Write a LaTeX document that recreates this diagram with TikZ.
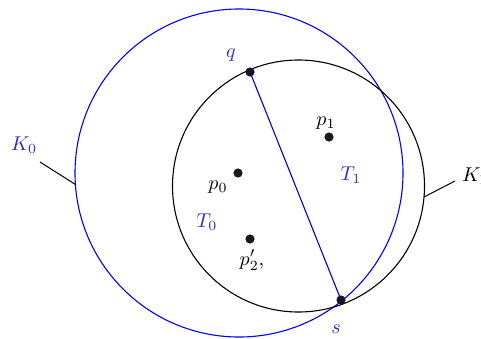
\documentclass[tikz,border=0pt]{standalone}
\usetikzlibrary{calc}
\definecolor{kblue}{RGB}{0,0,245}
\definecolor{lblue}{RGB}{45,45,190}
\begin{document}
\begin{tikzpicture}[x=0.5pt,y=-0.5pt,
  dot/.style={circle,fill=black!90,inner sep=0pt,minimum size=4.6pt},
  blab/.style={text=lblue,inner sep=1pt},
  klab/.style={inner sep=1pt}]
\useasboundingbox (0,0) rectangle (481,338);
\coordinate (c0) at (239,173);
\coordinate (c1) at (298.5,186);
\draw[kblue,line width=0.55pt] (c0) circle[radius=164];
\draw[black,line width=0.55pt] (c1) circle[radius=126];
\node[dot] (q) at (250,72) {};
\node[dot] (s) at (341,300) {};
\node[dot] (p0) at (238,173) {};
\node[dot] (p1) at (329,137) {};
\node[dot] (p2) at (250,239) {};
\draw[kblue!85!black,line width=0.55pt] (q.center) -- (s.center);
\node[blab] (lq) at (231,55) {$q$};
\node[blab] (ls) at (336,329) {$s$};
\node[klab] (lp1) at (326,123) {$p_1$};
\node[klab] (lp0) at (218,187) {$p_0$};
\node[klab] (lp2) at (252,260) {$p_2'$,};
\node[blab] (lT1) at (351,175) {$T_1$};
\node[blab] (lT0) at (207,222) {$T_0$};
\node[blab] (lK0) at (24,145) {$K_0$};
\node[klab] (lK1) at (475,176) {$K_1$};
\coordinate (a0) at (40,162);
\coordinate (b0) at ($(c0)+(176:164)$);
\draw[line width=0.5pt] (a0) -- (b0);
\coordinate (a1) at (455,181);
\coordinate (b1) at ($(c1)+(5:126)$);
\draw[line width=0.5pt] (a1) -- (b1);
\end{tikzpicture}
\end{document}
